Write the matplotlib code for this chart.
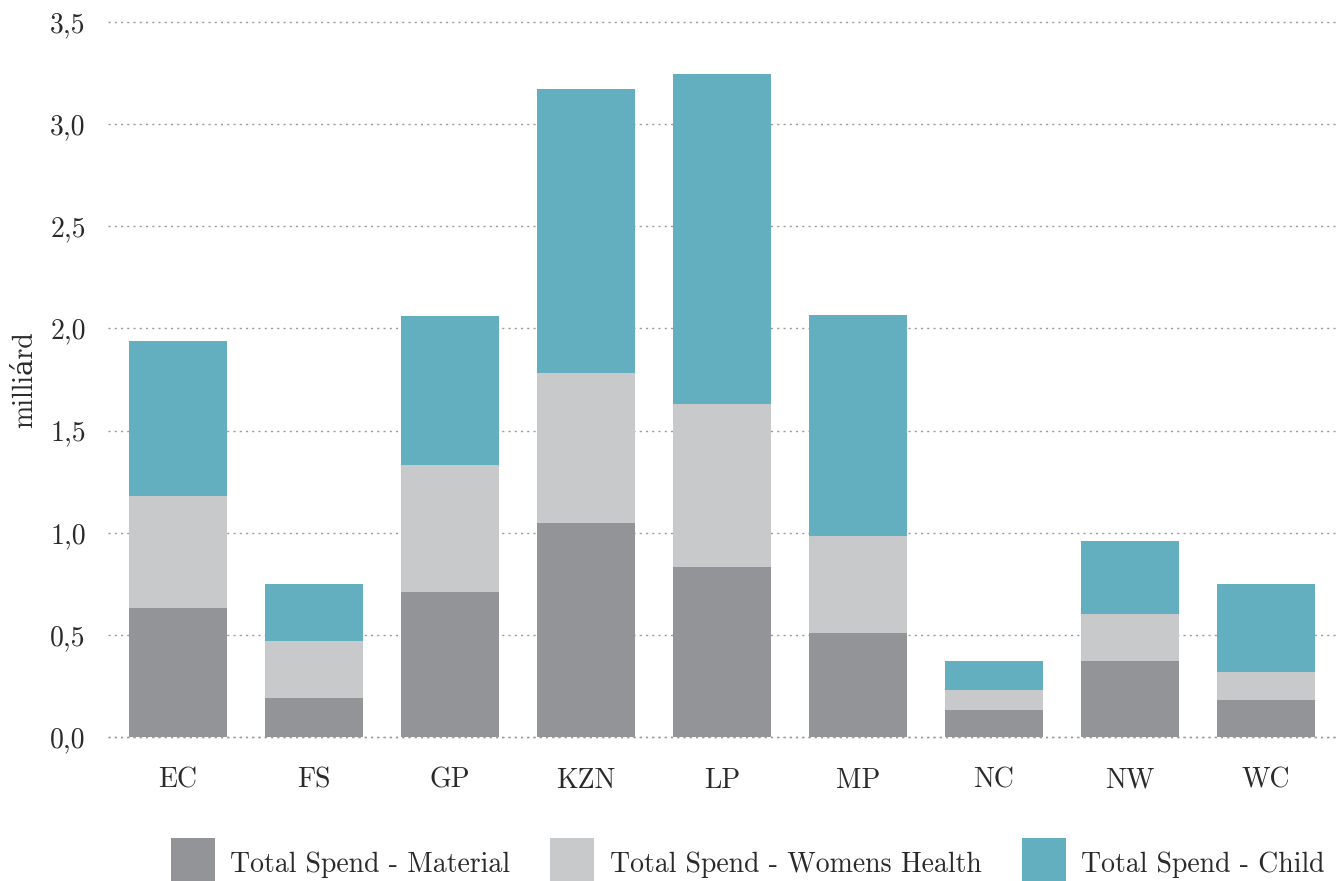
import matplotlib
matplotlib.use("Agg")
import matplotlib.pyplot as plt
import numpy as np

categories = ["EC", "FS", "GP", "KZN", "LP", "MP", "NC", "NW", "WC"]
material = [0.63, 0.19, 0.71, 1.05, 0.83, 0.51, 0.13, 0.37, 0.18]
womens_health = [0.55, 0.28, 0.62, 0.73, 0.80, 0.475, 0.10, 0.23, 0.14]
child = [0.76, 0.28, 0.73, 1.39, 1.615, 1.08, 0.14, 0.36, 0.43]
series_names = ["Total Spend - Material", "Total Spend - Womens Health", "Total Spend - Child"]
y_ticks = [0.0, 0.5, 1.0, 1.5, 2.0, 2.5, 3.0, 3.5]
y_label = "milliárd"

colors = ["#939497", "#c8c9cb", "#63afbf"]

plt.rcParams['font.family'] = ['cmr10', 'DejaVu Serif']
plt.rcParams['axes.formatter.use_mathtext'] = True

fig = plt.figure(figsize=(13.42, 8.81), dpi=100)
L, R, T, B = 108, 1338, 22, 737
W, H = 1342, 881
ax = fig.add_axes([L / W, 1 - B / H, (R - L) / W, (B - T) / H])

x = np.arange(len(categories))
bottom = np.zeros(len(categories))
handles = []
for vals, c, name in zip([material, womens_health, child], colors, series_names):
    h = ax.bar(x, vals, width=0.72, bottom=bottom, color=c, label=name, zorder=2)
    handles.append(h)
    bottom += np.array(vals)

ax.set_xlim(-0.515, 8.53)
ax.set_ylim(0, 3.5)
ax.set_yticks(y_ticks)
ax.set_yticklabels([f"{v:.1f}".replace(".", ",") for v in y_ticks])
ax.set_xticks(x)
ax.set_xticklabels(categories)
for s in ax.spines.values():
    s.set_visible(False)
ax.tick_params(axis='both', length=0, labelsize=20, colors="#2a2a2a")
ax.tick_params(axis='y', pad=16)
ax.tick_params(axis='x', pad=22)
ax.yaxis.grid(True, color="#9a9a9a", linewidth=1.0, dashes=(1.5, 3), zorder=0)
for gl in ax.yaxis.get_gridlines():
    gl.set_clip_on(False)
ax.axhline(0, color="#9a9a9a", linewidth=1.0, dashes=(1.5, 3), zorder=3, clip_on=False)
ax.set_axisbelow(True)
ax.set_ylabel(y_label, fontsize=20, color="#2a2a2a", labelpad=9)

fig.legend(handles=handles, labels=series_names, loc='upper left',
           bbox_to_anchor=(171 / W, 1 - 838 / H), ncol=3, frameon=False,
           fontsize=20, borderpad=0, borderaxespad=0, handlelength=1.58,
           handleheight=2.45, handletextpad=0.55, columnspacing=1.45,
           labelcolor="#2a2a2a")

fig.savefig("out.png", dpi=100)
